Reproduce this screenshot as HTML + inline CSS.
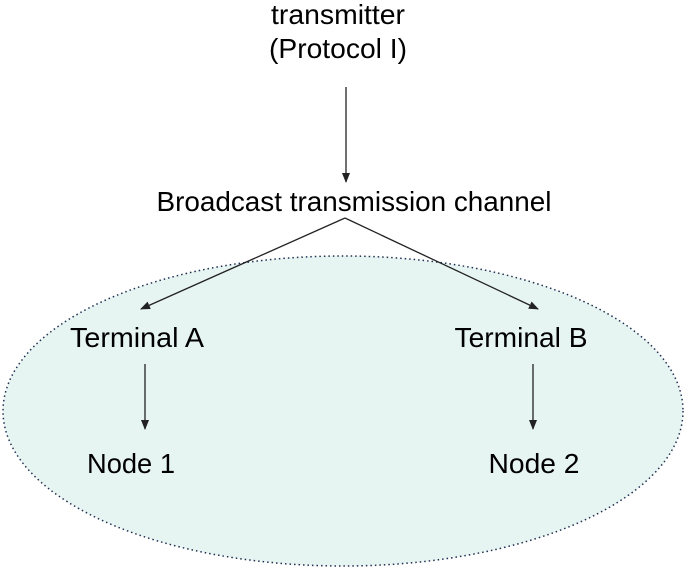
<!DOCTYPE html>
<html><head><meta charset="utf-8"><style>
body{margin:0;width:685px;height:571px;background:#fff;overflow:hidden}
svg text{font-family:"Liberation Sans",sans-serif;font-size:28px;fill:#000}
</style></head><body>
<svg width="685" height="571" viewBox="0 0 685 571" xmlns="http://www.w3.org/2000/svg">
<defs><marker id="a" markerWidth="10" markerHeight="10" refX="9" refY="5" orient="auto" markerUnits="userSpaceOnUse"><path d="M0,1 L10,5 L0,9 Z" fill="#222"/></marker></defs>
<ellipse cx="343" cy="411" rx="340" ry="155" fill="#e6f4f2" stroke="#1f2f4f" stroke-width="1.5" stroke-dasharray="1.5 3"/>
<text x="338" y="24" text-anchor="middle" textLength="134" lengthAdjust="spacingAndGlyphs">transmitter</text>
<text x="338" y="58" text-anchor="middle" textLength="138" lengthAdjust="spacingAndGlyphs">(Protocol I)</text>
<line x1="346" y1="87" x2="346" y2="182" stroke="#222" stroke-width="1.3" marker-end="url(#a)"/>
<text x="354" y="211" text-anchor="middle" textLength="395" lengthAdjust="spacingAndGlyphs">Broadcast transmission channel</text>
<line x1="345" y1="218" x2="141" y2="309" stroke="#222" stroke-width="1.3" marker-end="url(#a)"/>
<line x1="345" y1="218" x2="538" y2="309" stroke="#222" stroke-width="1.3" marker-end="url(#a)"/>
<text x="137" y="347" text-anchor="middle" textLength="134" lengthAdjust="spacingAndGlyphs">Terminal A</text>
<text x="521" y="347" text-anchor="middle" textLength="133" lengthAdjust="spacingAndGlyphs">Terminal B</text>
<line x1="145" y1="364" x2="145" y2="429" stroke="#222" stroke-width="1.3" marker-end="url(#a)"/>
<line x1="533" y1="364" x2="533" y2="429" stroke="#222" stroke-width="1.3" marker-end="url(#a)"/>
<text x="131" y="473" text-anchor="middle" textLength="88" lengthAdjust="spacingAndGlyphs">Node 1</text>
<text x="534" y="473" text-anchor="middle" textLength="91" lengthAdjust="spacingAndGlyphs">Node 2</text>
</svg>
</body></html>
